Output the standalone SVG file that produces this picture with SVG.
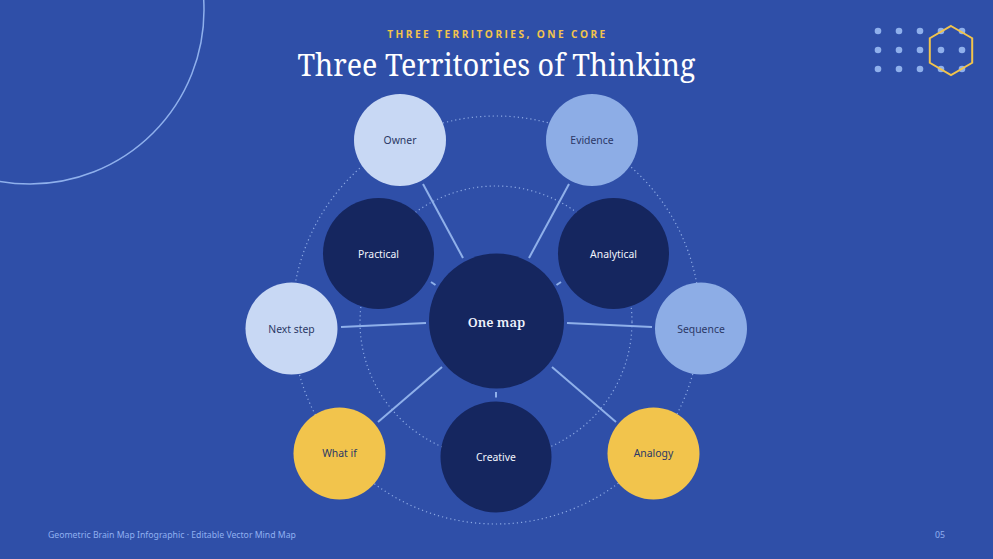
<svg xmlns="http://www.w3.org/2000/svg" width="993" height="559" viewBox="0 0 993 559">
<style>
.lbl{font-family:"Noto Sans","Liberation Sans",sans-serif;font-size:10.4px;text-anchor:middle;dominant-baseline:central}
.dk{fill:#2b3866}
.wt{fill:#f2f5fd}
.con{stroke:#8fb0ea;stroke-width:2;stroke-linecap:butt;fill:none}
.dot{fill:none;stroke:#9cb8ee;stroke-width:1.2;stroke-dasharray:1.2 3;opacity:0.85}
.navy{fill:#15265f}
.pale{fill:#c8d8f4}
.mid{fill:#8dade6}
.gold{fill:#f2c44c}
.gd{fill:#8fb0ec}
</style>
<rect width="993" height="559" fill="#2f4fa8"/>
<circle cx="30" cy="10" r="174" fill="none" stroke="#8fb0ec" stroke-width="1.5"/>
<g id="dots">
<circle class="gd" cx="878" cy="31" r="3.3"/><circle class="gd" cx="899" cy="31" r="3.3"/><circle class="gd" cx="920" cy="31" r="3.3"/><circle class="gd" cx="941" cy="31" r="3.3"/><circle class="gd" cx="962" cy="31" r="3.3"/>
<circle class="gd" cx="878" cy="50" r="3.3"/><circle class="gd" cx="899" cy="50" r="3.3"/><circle class="gd" cx="920" cy="50" r="3.3"/><circle class="gd" cx="941" cy="50" r="3.3"/><circle class="gd" cx="962" cy="50" r="3.3"/>
<circle class="gd" cx="878" cy="69" r="3.3"/><circle class="gd" cx="899" cy="69" r="3.3"/><circle class="gd" cx="920" cy="69" r="3.3"/><circle class="gd" cx="941" cy="69" r="3.3"/><circle class="gd" cx="962" cy="69" r="3.3"/>
<polygon points="951,26 972.2,38.25 972.2,62.75 951,75 929.8,62.75 929.8,38.25" fill="none" stroke="#f2c44c" stroke-width="2"/>
</g>
<text x="497.5" y="38" text-anchor="middle" font-family="Open Sans,Noto Sans,sans-serif" font-weight="bold" font-size="10.2" letter-spacing="2.4" fill="#f2c44c">THREE TERRITORIES, ONE CORE</text>
<text x="496.5" y="76" text-anchor="middle" font-family="Noto Serif,DejaVu Serif,Liberation Serif,serif" font-size="31" fill="#ffffff" textLength="398" lengthAdjust="spacingAndGlyphs">Three Territories of Thinking</text>
<g id="rings">
<circle class="dot" cx="496" cy="320" r="204"/>
<circle class="dot" cx="496" cy="322" r="136"/>
</g>
<g id="connectors">
<line class="con" x1="463" y1="258" x2="423" y2="184"/>
<line class="con" x1="529" y1="258" x2="569" y2="184"/>
<line class="con" x1="426" y1="323" x2="341" y2="327"/>
<line class="con" x1="567" y1="323" x2="652" y2="327"/>
<line class="con" x1="442" y1="367" x2="378" y2="422"/>
<line class="con" x1="552" y1="367" x2="616" y2="422"/>
<line class="con" x1="431" y1="282" x2="435.5" y2="285"/>
<line class="con" x1="561" y1="282" x2="556.5" y2="285"/>
<line class="con" x1="496" y1="392" x2="496" y2="397.5"/>
</g>
<g id="center"><circle class="navy" cx="496.5" cy="321" r="67.5"/><text x="496.5" y="322" text-anchor="middle" dominant-baseline="central" font-family="Noto Serif,Liberation Serif,serif" font-weight="600" font-size="13" fill="#eef2fc">One map</text></g>
<g id="practical"><circle class="navy" cx="378.5" cy="253.5" r="55.5"/><text class="lbl wt" x="378.5" y="253.5">Practical</text></g>
<g id="analytical"><circle class="navy" cx="613.5" cy="253.5" r="55.5"/><text class="lbl wt" x="613.5" y="253.5">Analytical</text></g>
<g id="creative"><circle class="navy" cx="496" cy="457" r="55.5"/><text class="lbl wt" x="496" y="457">Creative</text></g>
<g id="owner"><circle class="pale" cx="400" cy="140" r="46"/><text class="lbl dk" x="400" y="140">Owner</text></g>
<g id="evidence"><circle class="mid" cx="592" cy="140" r="46"/><text class="lbl dk" x="592" y="140">Evidence</text></g>
<g id="nextstep"><circle class="pale" cx="291.5" cy="328.5" r="46"/><text class="lbl dk" x="291.5" y="328.5">Next step</text></g>
<g id="sequence"><circle class="mid" cx="701" cy="328.5" r="46"/><text class="lbl dk" x="701" y="328.5">Sequence</text></g>
<g id="whatif"><circle class="gold" cx="339.5" cy="453.5" r="46"/><text class="lbl dk" x="339.5" y="453">What if</text></g>
<g id="analogy"><circle class="gold" cx="653.5" cy="453.5" r="46"/><text class="lbl dk" x="653.5" y="453">Analogy</text></g>
<text x="48" y="538" font-family="Noto Sans,Liberation Sans,sans-serif" font-size="8.7" fill="#8fb0f0">Geometric Brain Map Infographic · Editable Vector Mind Map</text>
<text x="945" y="538" text-anchor="end" font-family="Noto Sans,Liberation Sans,sans-serif" font-size="8.7" fill="#8fb0f0">05</text>
</svg>
